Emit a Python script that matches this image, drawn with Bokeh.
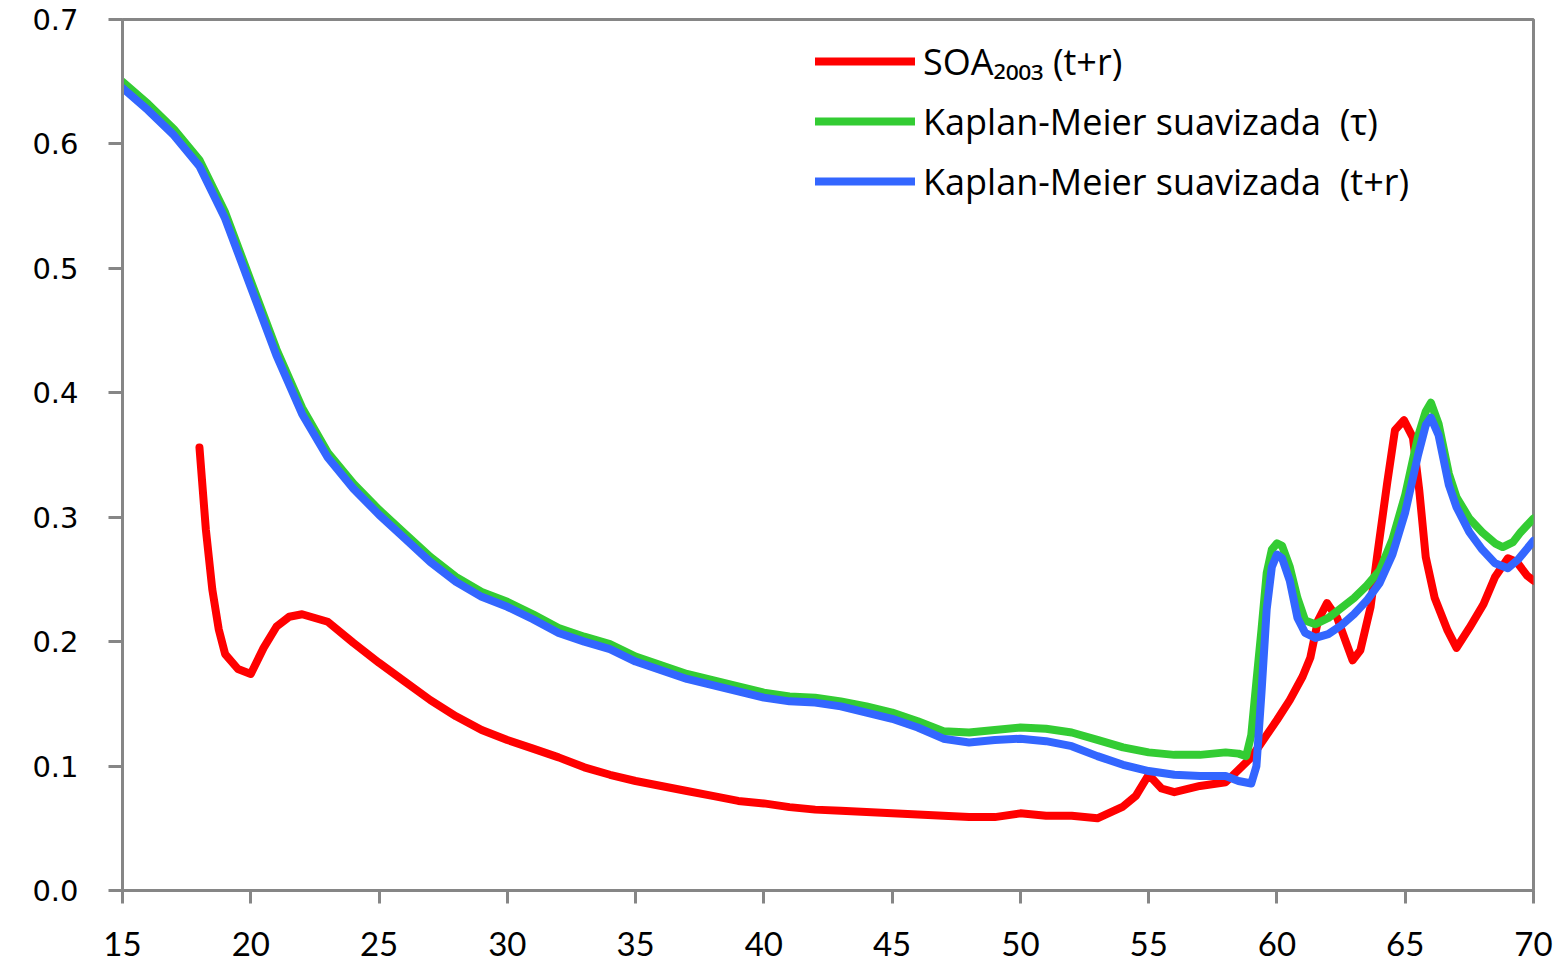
from bokeh.plotting import figure
from bokeh.models import Range1d, Legend, LegendItem, NumeralTickFormatter, FixedTicker
from bokeh.embed import file_html
from bokeh.resources import INLINE

# Kaplan-Meier suavizada (tau)
ages_tau = list(range(15, 59)) + [58.5, 58.8, 59, 59.2, 59.4, 59.6, 59.8, 60, 60.2, 60.5,
                                  60.8, 61.1, 61.5, 62, 62.5, 63, 63.5, 64, 64.5, 65,
                                  65.5, 65.8, 66, 66.3, 66.7, 67, 67.5, 68, 68.5, 68.8,
                                  69.2, 69.5, 70]
km_tau = [0.650, 0.632, 0.612, 0.587, 0.545, 0.490, 0.435, 0.388, 0.352, 0.327,
          0.306, 0.287, 0.268, 0.252, 0.240, 0.232, 0.222, 0.211, 0.204, 0.198,
          0.188, 0.181, 0.174, 0.169, 0.164, 0.159, 0.156, 0.155, 0.152, 0.148,
          0.143, 0.136, 0.128, 0.127, 0.129, 0.131, 0.130, 0.127, 0.121, 0.115,
          0.111, 0.109, 0.109, 0.111,
          0.110, 0.108, 0.125, 0.168, 0.210, 0.255, 0.274, 0.279, 0.277, 0.260,
          0.235, 0.217, 0.214, 0.219, 0.227, 0.235, 0.245, 0.257, 0.282, 0.318,
          0.365, 0.385, 0.392, 0.375, 0.335, 0.316, 0.299, 0.288, 0.279, 0.276,
          0.280, 0.288, 0.299]

# Kaplan-Meier suavizada (t+r)
ages_tr = list(range(15, 59)) + [58.5, 59, 59.2, 59.4, 59.6, 59.8, 60, 60.2, 60.5, 60.8,
                                 61.1, 61.5, 62, 62.5, 63, 63.5, 64, 64.5, 65, 65.5,
                                 65.8, 66, 66.3, 66.7, 67, 67.5, 68, 68.5, 69, 69.4, 70]
km_tr = [0.645, 0.627, 0.607, 0.582, 0.540, 0.485, 0.430, 0.383, 0.348, 0.323,
         0.302, 0.283, 0.264, 0.248, 0.236, 0.228, 0.218, 0.207, 0.200, 0.194,
         0.184, 0.177, 0.170, 0.165, 0.160, 0.155, 0.152, 0.151, 0.148, 0.143,
         0.138, 0.131, 0.122, 0.119, 0.121, 0.122, 0.120, 0.116, 0.108, 0.101,
         0.096, 0.093, 0.092, 0.092,
         0.088, 0.086, 0.100, 0.160, 0.226, 0.260, 0.270, 0.267, 0.249, 0.219,
         0.207, 0.203, 0.206, 0.213, 0.222, 0.233, 0.247, 0.270, 0.304, 0.350,
         0.374, 0.380, 0.366, 0.326, 0.308, 0.288, 0.274, 0.263, 0.259, 0.266,
         0.281]

# SOA 2003 (t+r)
ages_soa = [18, 18.25, 18.5, 18.75, 19, 19.5, 20, 20.5, 21, 21.5, 22] + list(range(23, 55)) + \
           [54.5, 55, 55.5, 56, 57, 58, 58.5, 59, 59.5, 60, 60.5, 61, 61.3, 61.6, 61.95,
            62.35, 62.7, 62.95, 63.25, 63.65, 63.9, 64.3, 64.6, 64.95, 65.3, 65.55, 65.8,
            66.15, 66.65, 67, 67.5, 68.05, 68.5, 69, 69.35, 69.75, 70]
soa = [0.356, 0.290, 0.242, 0.210, 0.190, 0.178, 0.174, 0.195, 0.212, 0.220, 0.222,
       0.216, 0.199, 0.183, 0.168, 0.153, 0.140, 0.129, 0.121, 0.114, 0.107,
       0.099, 0.093, 0.088, 0.084, 0.080, 0.076, 0.072, 0.070, 0.067, 0.065,
       0.064, 0.063, 0.062, 0.061, 0.060, 0.059, 0.059, 0.062, 0.060, 0.060,
       0.058, 0.0675,
       0.076, 0.093, 0.082, 0.079, 0.084, 0.087, 0.097, 0.107, 0.122, 0.137,
       0.153, 0.172, 0.187, 0.217, 0.231, 0.219, 0.199, 0.185, 0.193, 0.228,
       0.268, 0.328, 0.370, 0.378, 0.364, 0.321, 0.268, 0.235, 0.209, 0.195,
       0.211, 0.230, 0.252, 0.267, 0.264, 0.253, 0.249]

x_ticks = [15, 20, 25, 30, 35, 40, 45, 50, 55, 60, 65, 70]
y_ticks = [0.0, 0.1, 0.2, 0.3, 0.4, 0.5, 0.6, 0.7]
labels = ["SOA\u2082\u2080\u2080\u2083 (t+r)",
          "Kaplan-Meier suavizada \u00a0(\u03c4)",
          "Kaplan-Meier suavizada \u00a0(t+r)"]

AXIS = "#868686"

p = figure(width=1559, height=970, output_backend="svg", toolbar_location=None,
           x_range=Range1d(15, 70), y_range=Range1d(0, 0.7),
           min_border_left=122, min_border_right=26, min_border_top=19, min_border_bottom=80)
p.background_fill_color = "white"
p.border_fill_color = "white"
p.outline_line_color = AXIS
p.outline_line_width = 3
p.grid.visible = False

r_red = p.line(ages_soa, soa, line_color="#FF0000", line_width=8, line_join="round", line_cap="round")
r_green = p.line(ages_tau, km_tau, line_color="#33CC33", line_width=8, line_join="round", line_cap="round")
r_blue = p.line(ages_tr, km_tr, line_color="#3366FF", line_width=8, line_join="round", line_cap="round")

for ax in (p.xaxis[0], p.yaxis[0]):
    ax.axis_line_color = AXIS
    ax.axis_line_width = 3
    ax.major_tick_line_color = AXIS
    ax.major_tick_line_width = 3
    ax.major_tick_in = 0
    ax.minor_tick_line_color = None
    ax.major_label_text_color = "black"

p.xaxis[0].ticker = FixedTicker(ticks=x_ticks)
p.xaxis[0].major_tick_out = 13
p.xaxis[0].major_label_text_font = "Lato"
p.xaxis[0].major_label_text_font_size = "33px"
p.xaxis[0].major_label_standoff = 28

p.yaxis[0].ticker = FixedTicker(ticks=y_ticks)
p.yaxis[0].formatter = NumeralTickFormatter(format="0.0")
p.yaxis[0].major_tick_out = 14
p.yaxis[0].major_label_text_font = "DejaVu Sans"
p.yaxis[0].major_label_text_font_size = "29px"
p.yaxis[0].major_label_standoff = 30

legend = Legend(items=[LegendItem(label=labels[0], renderers=[r_red]),
                       LegendItem(label=labels[1], renderers=[r_green]),
                       LegendItem(label=labels[2], renderers=[r_blue])],
                location=(693, 684))
legend.label_text_font = "Open Sans"
legend.label_text_font_size = "36px"
legend.label_text_color = "black"
legend.glyph_width = 100
legend.glyph_height = 50
legend.label_height = 50
legend.label_standoff = 8
legend.spacing = 10
legend.padding = 0
legend.margin = 0
legend.border_line_alpha = 0
legend.background_fill_alpha = 0
p.add_layout(legend)

open("out.html", "w").write(file_html(p, INLINE))
